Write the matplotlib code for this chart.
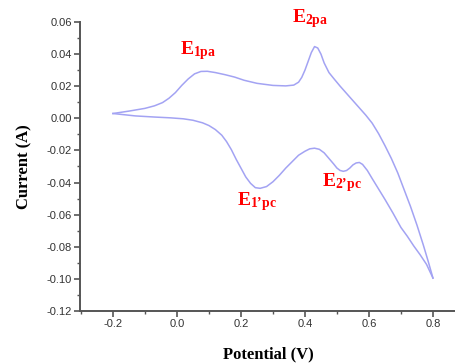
import matplotlib.pyplot as plt
from matplotlib.ticker import MultipleLocator, FormatStrFormatter

# forward scan (-0.2 -> 0.8)
fwd_v = [-0.20, -0.15, -0.10, -0.07, -0.045, -0.025, -0.005, 0.015, 0.035, 0.055, 0.075,
         0.095, 0.12, 0.15, 0.18, 0.21, 0.25, 0.30, 0.34, 0.365, 0.38, 0.39, 0.40, 0.41,
         0.42, 0.43, 0.44, 0.45, 0.46, 0.475, 0.49, 0.51, 0.53, 0.55, 0.57, 0.59, 0.61,
         0.63, 0.65, 0.67, 0.69, 0.71, 0.73, 0.75, 0.77, 0.785, 0.80]
fwd_i = [0.003, 0.0045, 0.0062, 0.0078, 0.0098, 0.0125, 0.016, 0.0205, 0.0245, 0.0277, 0.0292,
         0.0293, 0.0285, 0.0272, 0.0257, 0.0237, 0.0218, 0.0205, 0.0202, 0.0207, 0.0225, 0.0255, 0.030, 0.0355,
         0.041, 0.0447, 0.0438, 0.040, 0.0345, 0.0285, 0.0248, 0.020, 0.0155, 0.011, 0.0065, 0.002, -0.003,
         -0.0095, -0.017, -0.025, -0.034, -0.0445, -0.055, -0.0665, -0.079, -0.089, -0.0995]
# reverse scan (0.8 -> -0.2)
rev_v = [0.80, 0.78, 0.76, 0.74, 0.72, 0.70, 0.675, 0.65, 0.63, 0.61, 0.595, 0.58, 0.57,
         0.56, 0.55, 0.54, 0.53, 0.52, 0.51, 0.50, 0.49, 0.475, 0.46, 0.445, 0.43, 0.415,
         0.40, 0.38, 0.36, 0.34, 0.32, 0.30, 0.28, 0.26, 0.245, 0.23, 0.215, 0.20, 0.185,
         0.17, 0.155, 0.14, 0.12, 0.10, 0.08, 0.05, 0.02, -0.02, -0.07, -0.13, -0.20]
rev_i = [-0.0995, -0.091, -0.085, -0.0795, -0.0735, -0.068, -0.059, -0.0505, -0.044, -0.0375,
         -0.0325, -0.0287, -0.0275, -0.0278, -0.029, -0.031, -0.0325, -0.033, -0.0325, -0.031,
         -0.0285, -0.025, -0.0215, -0.0193, -0.0186, -0.019, -0.0205, -0.023, -0.027, -0.031,
         -0.0355, -0.0395, -0.0425, -0.0436, -0.0432, -0.0405, -0.0365, -0.031, -0.0255,
         -0.0195, -0.0145, -0.0105, -0.007, -0.0045, -0.0028, -0.0012, -0.0003, 0.0003,
         0.0008, 0.0015, 0.003]

peak_labels = [r'$\mathbf{E_{1pa}}$', r'$\mathbf{E_{2pa}}$',
               '$\\mathbf{E_{1\u2019pc}}$', '$\\mathbf{E_{2\u2019pc}}$']
peak_pos = [(0.009, 0.042), (0.36, 0.062), (0.187, -0.052), (0.453, -0.040)]

plt.rcParams['mathtext.fontset'] = 'custom'
plt.rcParams['mathtext.rm'] = 'Liberation Serif'
plt.rcParams['mathtext.bf'] = 'Liberation Serif:bold'

fig = plt.figure(figsize=(4.56, 3.63), dpi=100)
ax = fig.add_axes([0.1754, 0.1433, 0.8246, 0.7961])
ax.plot(fwd_v, fwd_i, color='#a3a3f3', lw=1.1)
ax.plot(rev_v, rev_i, color='#a3a3f3', lw=1.1)

ax.set_xlim(-0.303, 0.872)
ax.set_ylim(-0.12, 0.06)
for s in ['top', 'right']:
    ax.spines[s].set_visible(False)
for s in ['left', 'bottom']:
    ax.spines[s].set_color('#555555')
    ax.spines[s].set_linewidth(1.4)

ax.xaxis.set_major_locator(MultipleLocator(0.2))
ax.xaxis.set_minor_locator(MultipleLocator(0.1))
ax.yaxis.set_major_locator(MultipleLocator(0.02))
ax.yaxis.set_minor_locator(MultipleLocator(0.01))
ax.xaxis.set_major_formatter(FormatStrFormatter('%.1f'))
ax.yaxis.set_major_formatter(FormatStrFormatter('%.2f'))
ax.tick_params(which='major', length=4, width=1.2, color='#555555',
               labelsize=8, labelcolor='#333333', pad=2)
ax.tick_params(which='minor', length=2, width=1.0, color='#555555')
for t in ax.get_xticklabels() + ax.get_yticklabels():
    t.set_family('Liberation Sans')

ax.set_xlabel('Potential (V)', family='Liberation Serif', weight='bold', fontsize=12, labelpad=12)
ax.set_ylabel('Current (A)', family='Liberation Serif', weight='bold', fontsize=12, labelpad=10)

for lab, (x, y) in zip(peak_labels, peak_pos):
    ax.text(x, y, lab, color='red', fontsize=14, va='center', ha='left', clip_on=False)

fig.savefig('out.png', dpi=100)
